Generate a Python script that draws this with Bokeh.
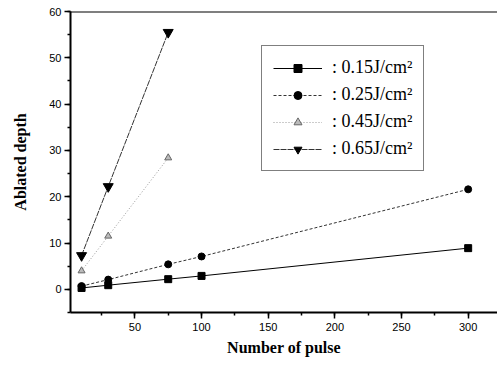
from bokeh.plotting import figure
from bokeh.models import SingleIntervalTicker, Span, Legend, LegendItem, Range1d
from bokeh.embed import file_html
from bokeh.resources import INLINE

pulses_long = [10, 30, 75, 100, 300]
pulses_short = [10, 30, 75]
depth_015 = [0.3, 0.9, 2.2, 2.9, 8.9]
depth_025 = [0.7, 2.1, 5.4, 7.1, 21.6]
depth_045 = [4.0, 11.5, 28.4]
depth_065 = [7.3, 22.2, 55.5]
labels = [": 0.15J/cm\u00b2", ": 0.25J/cm\u00b2", ": 0.45J/cm\u00b2", ": 0.65J/cm\u00b2"]

p = figure(width=497, height=365, output_backend="svg", toolbar_location=None,
           x_range=Range1d(1.7, 322), y_range=Range1d(-5, 60),
           min_border_left=70, min_border_top=11, min_border_right=0, min_border_bottom=53)
p.outline_line_color = None
p.grid.visible = False
p.background_fill_color = "white"

for ax in (p.xaxis[0], p.yaxis[0]):
    ax.axis_line_width = 2
    ax.axis_line_color = "black"
    ax.major_tick_line_width = 1.5
    ax.minor_tick_line_width = 1.5
    ax.major_tick_out = 6
    ax.major_tick_in = 0
    ax.minor_tick_out = 3
    ax.minor_tick_in = 0
    ax.major_label_text_font = "Liberation Sans"
    ax.major_label_text_font_size = "11px"
    ax.major_label_text_color = "black"
    ax.axis_label_text_font = "Liberation Serif"
    ax.axis_label_text_font_style = "bold"
    ax.axis_label_text_font_size = "16px"
    ax.axis_label_text_color = "black"

p.xaxis.ticker = SingleIntervalTicker(interval=50, num_minor_ticks=2)
p.yaxis.ticker = SingleIntervalTicker(interval=10, num_minor_ticks=2)
p.xaxis.axis_label = "Number of pulse"
p.yaxis.axis_label = "Ablated depth"
p.xaxis.major_label_standoff = 4
p.xaxis.axis_label_standoff = 5
p.yaxis.major_label_standoff = 3
p.yaxis.axis_label_standoff = 17

p.add_layout(Span(location=60, dimension="width", line_color="black", line_width=2))

l1 = p.line(pulses_long, depth_015, line_color="black", line_width=1)
m1 = p.scatter(pulses_long, depth_015, marker="square", size=7, color="black")
l2 = p.line(pulses_long, depth_025, line_color="#333333", line_width=1, line_dash="3 2")
m2 = p.scatter(pulses_long, depth_025, marker="circle", size=7, color="black")
l3 = p.line(pulses_short, depth_045, line_color="#999999", line_width=1, line_dash="1 2")
m3 = p.scatter(pulses_short, depth_045, marker="triangle", size=7, fill_color="#bbbbbb",
               line_color="#666666")
l4 = p.line(pulses_short, depth_065, line_color="#333333", line_width=1, line_dash="6 1")
m4 = p.scatter(pulses_short, depth_065, marker="inverted_triangle", size=10, color="black")

legend = Legend(items=[
    LegendItem(label=labels[0], renderers=[l1, m1]),
    LegendItem(label=labels[1], renderers=[l2, m2]),
    LegendItem(label=labels[2], renderers=[l3, m3]),
    LegendItem(label=labels[3], renderers=[l4, m4]),
], location=(191, 141))
legend.glyph_width = 49
legend.glyph_height = 20
legend.spacing = 6
legend.padding = 11
legend.label_text_font = "Liberation Serif"
legend.label_text_font_size = "18px"
legend.label_text_color = "black"
legend.label_standoff = 10
legend.border_line_color = "black"
legend.border_line_width = 1.5
legend.background_fill_alpha = 1
legend.margin = 0
p.add_layout(legend)

open("out.html", "w").write(file_html(p, INLINE))
